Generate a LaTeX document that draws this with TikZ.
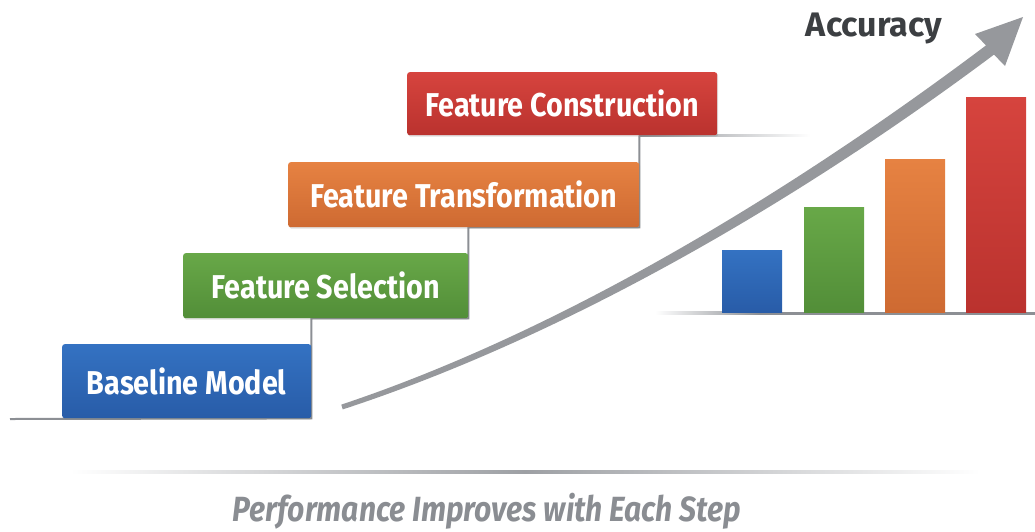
\documentclass[tikz,border=0pt]{standalone}
\usepackage{fontspec}
\setmainfont{Fira Sans}
\newfontfamily\stepfont{Fira Sans}[FakeStretch=0.87]
\newfontfamily\notefont{Fira Sans}[FakeStretch=0.86]
\usetikzlibrary{shadows,backgrounds}

\definecolor{baseTop}{RGB}{52,114,194}
\definecolor{baseBot}{RGB}{40,92,168}
\definecolor{selTop}{RGB}{104,168,72}
\definecolor{selBot}{RGB}{82,142,56}
\definecolor{trfTop}{RGB}{230,130,66}
\definecolor{trfBot}{RGB}{206,106,50}
\definecolor{conTop}{RGB}{214,68,62}
\definecolor{conBot}{RGB}{186,50,46}
\definecolor{stairGray}{RGB}{140,143,148}
\definecolor{arrowGray}{RGB}{150,152,156}
\definecolor{labelGray}{RGB}{60,63,66}
\definecolor{noteGray}{RGB}{138,141,146}

\tikzset{
  stepbox/.style={rounded corners=2.5pt, inner sep=0pt, anchor=north west, text=white,
    font=\stepfont\bfseries\fontsize{33}{38}\selectfont,
    drop shadow={opacity=0.25, shadow xshift=1pt, shadow yshift=-1.5pt}},
  stair/.style={draw=stairGray, line width=2},
}

\begin{document}
\begin{tikzpicture}[x=1pt,y=1pt,yscale=-1,xscale=1]
\useasboundingbox (0,0) rectangle (1035,531);

%Shape: floor line
\shade [left color=white, right color=white, middle color=stairGray!85] (70,470.5) rectangle (980,473.5);

%Shape: step boxes
\node [stepbox, top color=baseTop, bottom color=baseBot, minimum width=249pt, minimum height=74pt] (base) at (62,344) {Baseline Model};
\node [stepbox, top color=selTop, bottom color=selBot, minimum width=285pt, minimum height=65pt] (select) at (183,253) {Feature Selection};
\node [stepbox, top color=trfTop, bottom color=trfBot, minimum width=351pt, minimum height=65pt] (transform) at (288,162) {Feature Transformation};
\node [stepbox, top color=conTop, bottom color=conBot, minimum width=310pt, minimum height=63pt] (construct) at (407,72) {Feature Construction};

%Straight Lines: staircase
\coordinate (stairStart) at (10,419);
\begin{pgfonlayer}{background}
\draw [stair] (stairStart) -- (base.south east) -- (base.east |- select.south) -- (select.south east)
  -- (select.east |- transform.south) -- (transform.south east) -- (transform.east |- construct.south);
\shade [left color=stairGray, right color=white] (639,134) rectangle (810,136.5);
\end{pgfonlayer}

%Curve Lines: accuracy arrow
\fill [arrowGray] (341.3,404.6) .. controls (559,332) and (787,195) .. (986,45.4) -- (975,34) -- (1023,17)
  -- (1005,66) -- (994,54.6) .. controls (793,205) and (561,338) .. (342.7,409.4) -- cycle;

%Shape: bar chart
\shade [left color=white, right color=stairGray] (655,311.5) rectangle (760,314.5);
\fill [stairGray] (760,311.5) rectangle (1035,314.5);
\shade [top color=baseTop, bottom color=baseBot] (722,250) rectangle (782,312);
\shade [top color=selTop, bottom color=selBot] (804,207) rectangle (864,312);
\shade [top color=trfTop, bottom color=trfBot] (885,159) rectangle (945,312);
\shade [top color=conTop, bottom color=conBot] (966,97) rectangle (1026,312);

% Text Node
\node [font=\bfseries\fontsize{34}{40}\selectfont, text=labelGray] (accLabel) at (874,28) {Accuracy};
% Text Node
\node [font=\notefont\bfseries\itshape\fontsize{35}{42}\selectfont, text=noteGray] (note) at (487,511) {Performance Improves with Each Step};

\end{tikzpicture}
\end{document}
